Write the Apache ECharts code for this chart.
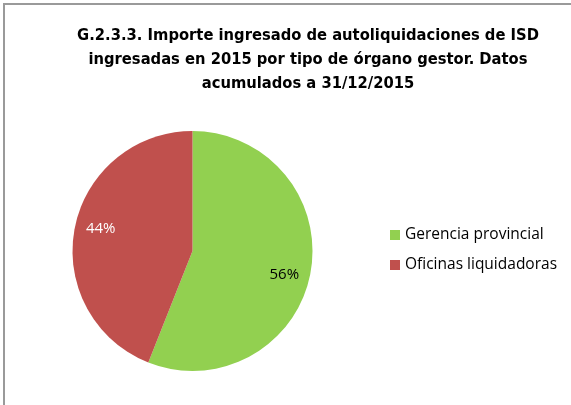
<!DOCTYPE html>
<html>
<head>
    <meta charset="utf-8">
    <title>G.2.3.3</title>
    <script src="https://cdn.jsdelivr.net/npm/echarts@6/dist/echarts.min.js"></script>
</head>
<body style="margin:0;">
    <div id="main" style="width: 571px;height:405px;"></div>
    <script type="text/javascript">
    var myChart = echarts.init(document.getElementById('main'));

    var organos = ['Gerencia provincial', 'Oficinas liquidadoras'];
    var porcentajes = [56, 44];
    var colores = ['#92D050', '#C0504D'];
    var colorEtiqueta = ['#000000', '#ffffff'];
    var desplazamiento = [[-3, 6], [3, -4]];

    var datos = [];
    var datosEtiqueta = [];
    echarts.util.each(organos, function (nombre, idx) {
        datos.push({ name: nombre, value: porcentajes[idx], itemStyle: { color: colores[idx] } });
        datosEtiqueta.push({
            name: nombre,
            value: porcentajes[idx],
            label: { color: colorEtiqueta[idx], offset: desplazamiento[idx] }
        });
    });

    option = {
        animation: false,
        backgroundColor: '#ffffff',
        title: {
            text: 'G.2.3.3. Importe ingresado de autoliquidaciones de ISD\ningresadas en 2015 por tipo de órgano gestor. Datos\nacumulados a 31/12/2015',
            left: 303,
            top: 19,
            textAlign: 'center',
            textStyle: {
                fontFamily: '"Liberation Sans Narrow", "DejaVu Sans Condensed", sans-serif',
                fontWeight: 'bold',
                fontSize: 16.4,
                lineHeight: 24,
                color: '#000'
            }
        },
        legend: {
            orient: 'vertical',
            left: 385,
            top: 221,
            icon: 'rect',
            itemWidth: 10,
            itemHeight: 10,
            itemGap: 12,
            data: organos.map(function (n, i) {
                return { name: n, itemStyle: { color: colores[i] } };
            }),
            textStyle: {
                fontFamily: '"Open Sans", sans-serif',
                fontSize: 15.5,
                lineHeight: 18,
                color: '#000'
            }
        },
        graphic: [{
            type: 'polyline',
            silent: true,
            shape: { points: [[4, 410], [4, 4], [575, 4]] },
            style: { stroke: '#9a9a9a', lineWidth: 2, fill: null }
        }],
        series: [{
            type: 'pie',
            center: [192.5, 251],
            radius: [0, 120],
            startAngle: 90,
            clockwise: true,
            silent: true,
            label: { show: false },
            labelLine: { show: false },
            data: datos
        }, {
            type: 'pie',
            center: [192.5, 251],
            radius: [67, 120],
            startAngle: 90,
            clockwise: true,
            silent: true,
            itemStyle: { color: 'rgba(0,0,0,0)' },
            label: {
                show: true,
                position: 'inside',
                formatter: '{c}%',
                fontFamily: '"Open Sans", sans-serif',
                fontSize: 15
            },
            labelLine: { show: false },
            data: datosEtiqueta
        }]
    };

    myChart.setOption(option);
    </script>
</body>
</html>
